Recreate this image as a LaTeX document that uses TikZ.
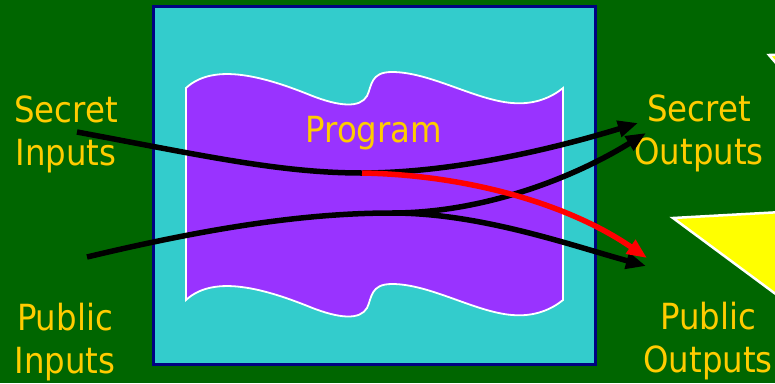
\documentclass[tikz,border=0pt]{standalone}
\usepackage{fontspec}
\setmainfont{DejaVu Sans Condensed}
\usetikzlibrary{arrows.meta}

\definecolor{bggreen}{RGB}{0,102,0}
\definecolor{boxcyan}{RGB}{51,204,204}
\definecolor{boxnavy}{RGB}{0,0,128}
\definecolor{progpurple}{RGB}{153,51,255}
\definecolor{txtyellow}{RGB}{255,204,0}
\definecolor{calloutyellow}{RGB}{255,255,0}

\begin{document}
\begin{tikzpicture}[x=1pt,y=-1pt,
    lbl/.style={text=txtyellow, align=center, inner sep=0pt, font=\fontsize{36}{43}\selectfont},
    flow/.style={line width=5.5pt, -{Triangle[length=20pt,width=16pt]}},
    callout/.style={fill=calloutyellow, draw=white, line width=2.5pt}]
\fill[bggreen] (0,0) rectangle (775,383);
\useasboundingbox (0,0) rectangle (775,383);
% callouts cut by the page edge
\begin{scope}
\clip (0,0) rectangle (775,383);
\filldraw[callout] (673,218) -- (800,211) -- (800,312) -- cycle;
\filldraw[callout] (769,55) -- (800,54) -- (800,91) -- cycle;
\end{scope}
% box and program
\filldraw[fill=boxcyan, draw=boxnavy, line width=3.5pt] (153.5,6.5) rectangle (595.5,364.5);
\filldraw[fill=progpurple, draw=white, line width=1.8pt]
  (186,88) .. controls (212,64) and (258,74) .. (310,95)
  .. controls (340,107) and (360,108) .. (367,96)
  .. controls (372,86) and (370,72) .. (392,72)
  .. controls (430,72) and (475,100) .. (512,103)
  .. controls (535,105) and (552,97) .. (563,88)
  -- (563,300)
  .. controls (552,309) and (535,317) .. (512,315)
  .. controls (475,312) and (430,284) .. (392,284)
  .. controls (370,284) and (372,298) .. (367,308)
  .. controls (360,320) and (340,319) .. (310,307)
  .. controls (258,286) and (212,276) .. (186,300) -- cycle;
\node[lbl] (prog) at (374,133) {Program};
% labels
\node[lbl] (secin) at (66,134) {Secret\\Inputs};
\node[lbl] (pubin) at (65,342) {Public\\Inputs};
\node[lbl] (secout) at (699,133) {Secret\\Outputs};
\node[lbl] (pubout) at (708,341) {Public\\Outputs};
% flow ends
\coordinate (secsrc) at (77,132);
\coordinate (pubsrc) at (87,257);
\coordinate (secmid) at (362,173);
\coordinate (pubmid) at (392,213);
\coordinate (secdst) at (638,123);
\coordinate (mixdst) at (646,133);
\coordinate (leakdst) at (647,258);
\coordinate (pubdst) at (646,266);
% flows
\draw[flow] (secsrc) .. controls (200,155) and (280,173) .. (secmid)
  .. controls (450,173) and (550,150) .. (secdst);
\draw[flow] (pubsrc) .. controls (200,230) and (300,213) .. (pubmid)
  .. controls (480,213) and (570,180) .. (mixdst);
\draw[flow] (pubmid) .. controls (480,213) and (570,245) .. (pubdst);
\draw[flow, red] (secmid) .. controls (470,175) and (570,205) .. (leakdst);
\end{tikzpicture}
\end{document}
